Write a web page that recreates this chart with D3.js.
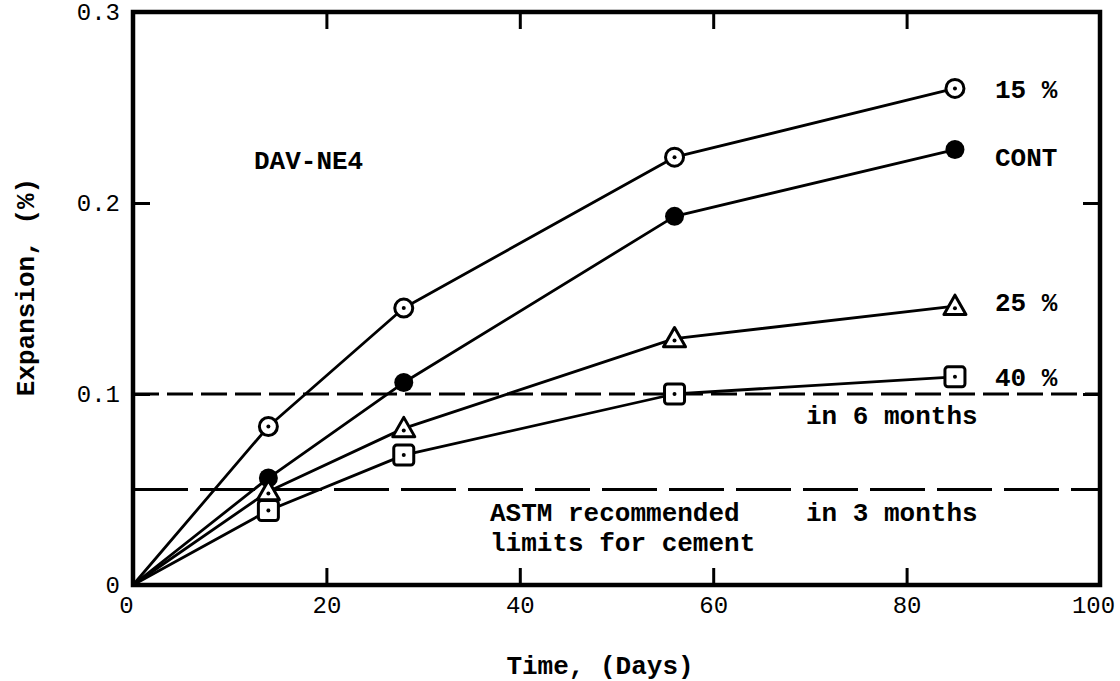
<!DOCTYPE html>
<html>
<head>
<meta charset="utf-8">
<script src="https://cdn.jsdelivr.net/npm/d3@7"></script>
<style>
  body { margin: 0; background: #fff; }
  svg { display: block; }
</style>
</head>
<body>
<svg id="chart" width="1120" height="681"></svg>
<script>
// Mortar bar expansion of DAV-NE4 cement blends over time
const days = [0, 14, 28, 56, 85];
const series15 = [0, 0.083, 0.145, 0.224, 0.260];
const seriesCont = [0, 0.056, 0.106, 0.193, 0.228];
const series25 = [0, 0.049, 0.082, 0.129, 0.146];
const series40 = [0, 0.039, 0.068, 0.100, 0.109];
const seriesNames = ["15 %", "CONT", "25 %", "40 %"];
const markerTypes = ["dotCircle", "disc", "dotTriangle", "dotSquare"];
const xTicks = [0, 20, 40, 60, 80, 100];
const yTicks = [0, 0.1, 0.2, 0.3];
const yTickLabels = ["0", "0.1", "0.2", "0.3"];
const limitValues = [0.1, 0.05];
const limitDashes = ["26,8", "55,12"];

const allSeries = [series15, seriesCont, series25, series40];

const svg = d3.select("#chart");
const mono = "'Liberation Mono', 'DejaVu Sans Mono', monospace";

const plotLeft = 133, plotRight = 1100, plotTop = 12, plotBottom = 585;
const x = d3.scaleLinear().domain([0, 100]).range([plotLeft, plotRight]);
const y = d3.scaleLinear().domain([0, 0.3]).range([plotBottom, plotTop]);

// Limit lines (dashed)
limitValues.forEach((v, i) => {
  svg.append("line")
    .attr("x1", plotLeft).attr("x2", plotRight)
    .attr("y1", y(v)).attr("y2", y(v))
    .attr("stroke", "#000").attr("stroke-width", 2.8)
    .attr("stroke-dasharray", limitDashes[i]);
});

// Axes with inward ticks
const tickStyle = g => {
  g.select(".domain").remove();
  g.selectAll(".tick line").attr("stroke", "#000").attr("stroke-width", 3);
  g.selectAll(".tick text").attr("fill", "#000")
    .style("font-family", mono).style("font-size", "24px");
};

const xAxisG = svg.append("g").attr("transform", `translate(0,${plotBottom})`)
  .call(d3.axisBottom(x).tickValues(xTicks).tickSize(-17).tickPadding(11).tickFormat(d3.format("d")))
  .call(tickStyle);
// end labels sit slightly left of their ticks so they stay inside the page
xAxisG.selectAll(".tick text").attr("dx", d => (d === 0 || d === 100) ? -7 : 0);

svg.append("g").attr("transform", `translate(0,${plotTop})`)
  .call(d3.axisTop(x).tickValues(xTicks).tickSize(-17).tickFormat(""))
  .call(tickStyle);
svg.append("g").attr("transform", `translate(${plotLeft},0)`)
  .call(d3.axisLeft(y).tickValues(yTicks).tickSize(-17).tickPadding(13)
    .tickFormat((d, i) => yTickLabels[i]))
  .call(tickStyle);
svg.append("g").attr("transform", `translate(${plotRight},0)`)
  .call(d3.axisRight(y).tickValues(yTicks).tickSize(-17).tickFormat(""))
  .call(tickStyle);

// Frame
svg.append("rect")
  .attr("x", plotLeft).attr("y", plotTop)
  .attr("width", plotRight - plotLeft).attr("height", plotBottom - plotTop)
  .attr("fill", "none").attr("stroke", "#000").attr("stroke-width", 4.5);

// Series lines
const line = d3.line().x((d, i) => x(days[i])).y(d => y(d));
allSeries.forEach(s => {
  svg.append("path").datum(s)
    .attr("d", line)
    .attr("fill", "none").attr("stroke", "#000")
    .attr("stroke-width", 2.8).attr("stroke-linejoin", "round");
});

// Markers
function drawMarker(g, type, cx, cy) {
  if (type === "disc") {
    g.append("circle").attr("cx", cx).attr("cy", cy).attr("r", 9.5).attr("fill", "#000");
    return;
  }
  if (type === "dotCircle") {
    g.append("circle").attr("cx", cx).attr("cy", cy).attr("r", 9)
      .attr("fill", "#fff").attr("stroke", "#000").attr("stroke-width", 3);
  } else if (type === "dotTriangle") {
    const s = 11;
    g.append("path")
      .attr("d", `M${cx},${cy - s} L${cx + s},${cy + s * 0.75} L${cx - s},${cy + s * 0.75} Z`)
      .attr("fill", "#fff").attr("stroke", "#000").attr("stroke-width", 3)
      .attr("stroke-linejoin", "round");
  } else if (type === "dotSquare") {
    g.append("rect").attr("x", cx - 10).attr("y", cy - 10)
      .attr("width", 20).attr("height", 20).attr("rx", 3)
      .attr("fill", "#fff").attr("stroke", "#000").attr("stroke-width", 3);
  }
  g.append("circle").attr("cx", cx).attr("cy", type === "dotTriangle" ? cy + 2 : cy)
    .attr("r", 2).attr("fill", "#000");
}

allSeries.forEach((s, k) => {
  const g = svg.append("g");
  s.forEach((v, i) => {
    if (i === 0) return;
    drawMarker(g, markerTypes[k], x(days[i]), y(v));
  });
});

// Series labels beside the last points
const labelOffsetY = [0, 7, -4, 0];
allSeries.forEach((s, k) => {
  const last = s.length - 1;
  svg.append("text")
    .attr("x", x(days[last]) + 40)
    .attr("y", y(s[last]) + labelOffsetY[k])
    .attr("dy", "0.35em")
    .style("font-family", mono).style("font-size", "26px").style("font-weight", "bold")
    .text(seriesNames[k]);
});

// Annotations
const notes = [
  { t: "DAV-NE4", x: 254, y: 160 },
  { t: "in 6 months", x: 806, y: 415 },
  { t: "ASTM recommended", x: 490, y: 512 },
  { t: "limits for cement", x: 490, y: 542 },
  { t: "in 3 months", x: 806, y: 512 }
];
notes.forEach(n => {
  svg.append("text").attr("x", n.x).attr("y", n.y).attr("dy", "0.35em")
    .style("font-family", mono).style("font-size", "26px").style("font-weight", "bold")
    .text(n.t);
});

// Axis titles
svg.append("text")
  .attr("x", 600).attr("y", 665).attr("dy", "0.35em")
  .attr("text-anchor", "middle")
  .style("font-family", mono).style("font-size", "26px").style("font-weight", "bold")
  .text("Time, (Days)");
svg.append("text")
  .attr("transform", "translate(25,287) rotate(-90)")
  .attr("dy", "0.35em")
  .attr("text-anchor", "middle")
  .style("font-family", mono).style("font-size", "26px").style("font-weight", "bold")
  .text("Expansion, (%)");
</script>
</body>
</html>
